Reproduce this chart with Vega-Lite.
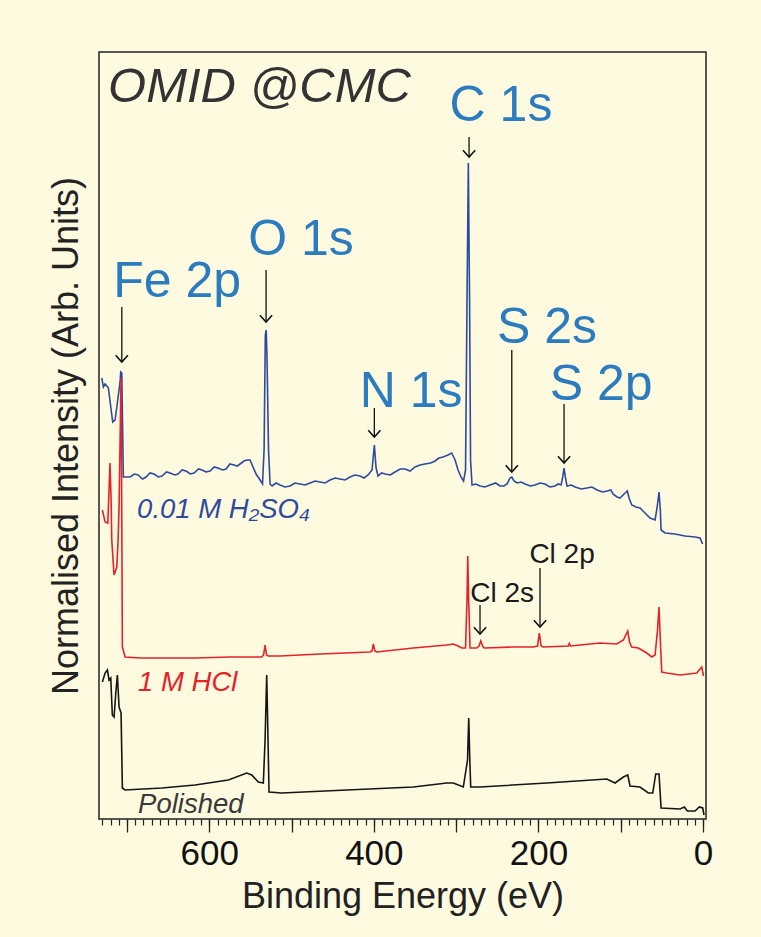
{
  "$schema": "https://vega.github.io/schema/vega-lite/v6.json",
  "width": 607,
  "height": 767,
  "autosize": "none",
  "padding": {"left": 99, "top": 52, "right": 55, "bottom": 118},
  "background": "#FEFAE0",
  "config": {
    "view": {"stroke": "#222222", "strokeWidth": 1.5},
    "font": "Liberation Sans"
  },
  "resolve": {"axis": {"x": "independent"}, "scale": {"color": "independent"}},
  "datasets": {
    "spectra": [
      {"s":"H2SO4","e":730.6,"i":441},{"s":"H2SO4","e":728.7,"i":432},{"s":"H2SO4","e":726.6,"i":435},{"s":"H2SO4","e":722.6,"i":431},{"s":"H2SO4","e":719.7,"i":412},{"s":"H2SO4","e":717.3,"i":397},{"s":"H2SO4","e":714.5,"i":399},{"s":"H2SO4","e":711.7,"i":416},{"s":"H2SO4","e":709.6,"i":429},{"s":"H2SO4","e":708.2,"i":439},{"s":"H2SO4","e":707.6,"i":447},{"s":"H2SO4","e":706.3,"i":446},{"s":"H2SO4","e":705.1,"i":379},{"s":"H2SO4","e":704.4,"i":342},{"s":"H2SO4","e":700.3,"i":342},{"s":"H2SO4","e":696.3,"i":342},{"s":"H2SO4","e":691,"i":345},{"s":"H2SO4","e":686.5,"i":344},{"s":"H2SO4","e":681,"i":340},{"s":"H2SO4","e":676.8,"i":342},{"s":"H2SO4","e":672,"i":346},{"s":"H2SO4","e":667.1,"i":345},{"s":"H2SO4","e":662,"i":342},{"s":"H2SO4","e":657.4,"i":343},{"s":"H2SO4","e":652,"i":347},{"s":"H2SO4","e":647.6,"i":346},{"s":"H2SO4","e":642,"i":344},{"s":"H2SO4","e":637.9,"i":345},{"s":"H2SO4","e":633,"i":349},{"s":"H2SO4","e":628.2,"i":348},{"s":"H2SO4","e":623,"i":345},{"s":"H2SO4","e":618.5,"i":346},{"s":"H2SO4","e":613,"i":350},{"s":"H2SO4","e":608.8,"i":349},{"s":"H2SO4","e":604,"i":347},{"s":"H2SO4","e":599.0,"i":348},{"s":"H2SO4","e":594,"i":352},{"s":"H2SO4","e":589.3,"i":351},{"s":"H2SO4","e":584,"i":349},{"s":"H2SO4","e":579.6,"i":350},{"s":"H2SO4","e":575,"i":355},{"s":"H2SO4","e":569.9,"i":354},{"s":"H2SO4","e":566,"i":353},{"s":"H2SO4","e":562.6,"i":355},{"s":"H2SO4","e":557.7,"i":358},{"s":"H2SO4","e":554.1,"i":359},{"s":"H2SO4","e":550.4,"i":359},{"s":"H2SO4","e":546.8,"i":352},{"s":"H2SO4","e":543.1,"i":345},{"s":"H2SO4","e":538.3,"i":339},{"s":"H2SO4","e":535.3,"i":335},{"s":"H2SO4","e":533.4,"i":369},{"s":"H2SO4","e":531.9,"i":484},{"s":"H2SO4","e":530.8,"i":489},{"s":"H2SO4","e":529.8,"i":459},{"s":"H2SO4","e":528.0,"i":369},{"s":"H2SO4","e":526.1,"i":335},{"s":"H2SO4","e":523.7,"i":333},{"s":"H2SO4","e":518.8,"i":336},{"s":"H2SO4","e":514.0,"i":334},{"s":"H2SO4","e":508,"i":332},{"s":"H2SO4","e":501.8,"i":333},{"s":"H2SO4","e":495.7,"i":336},{"s":"H2SO4","e":489.7,"i":335},{"s":"H2SO4","e":483.6,"i":334},{"s":"H2SO4","e":477.5,"i":336},{"s":"H2SO4","e":471.4,"i":338},{"s":"H2SO4","e":465.4,"i":337},{"s":"H2SO4","e":459.3,"i":336},{"s":"H2SO4","e":453.2,"i":339},{"s":"H2SO4","e":447,"i":341},{"s":"H2SO4","e":441.1,"i":340},{"s":"H2SO4","e":435,"i":339},{"s":"H2SO4","e":428.9,"i":342},{"s":"H2SO4","e":423,"i":344},{"s":"H2SO4","e":416.8,"i":343},{"s":"H2SO4","e":412,"i":341},{"s":"H2SO4","e":407.1,"i":344},{"s":"H2SO4","e":402.2,"i":349},{"s":"H2SO4","e":399.4,"i":374},{"s":"H2SO4","e":397.3,"i":351},{"s":"H2SO4","e":394.9,"i":343},{"s":"H2SO4","e":390.6,"i":346},{"s":"H2SO4","e":386.4,"i":345},{"s":"H2SO4","e":380,"i":344},{"s":"H2SO4","e":374.3,"i":347},{"s":"H2SO4","e":368,"i":350},{"s":"H2SO4","e":362.1,"i":350},{"s":"H2SO4","e":356,"i":348},{"s":"H2SO4","e":350.0,"i":352},{"s":"H2SO4","e":344,"i":354},{"s":"H2SO4","e":337.8,"i":355},{"s":"H2SO4","e":331,"i":356},{"s":"H2SO4","e":325.6,"i":358},{"s":"H2SO4","e":321,"i":361},{"s":"H2SO4","e":315.9,"i":362},{"s":"H2SO4","e":309.9,"i":364},{"s":"H2SO4","e":305.4,"i":366},{"s":"H2SO4","e":301.3,"i":359},{"s":"H2SO4","e":297.7,"i":349},{"s":"H2SO4","e":294.1,"i":342},{"s":"H2SO4","e":291.0,"i":338},{"s":"H2SO4","e":288.6,"i":349},{"s":"H2SO4","e":286.8,"i":519},{"s":"H2SO4","e":285.2,"i":656},{"s":"H2SO4","e":283.7,"i":519},{"s":"H2SO4","e":282.5,"i":359},{"s":"H2SO4","e":280.7,"i":334},{"s":"H2SO4","e":276,"i":335},{"s":"H2SO4","e":271.0,"i":333},{"s":"H2SO4","e":265,"i":332},{"s":"H2SO4","e":258.8,"i":334},{"s":"H2SO4","e":252,"i":336},{"s":"H2SO4","e":246.7,"i":333},{"s":"H2SO4","e":242,"i":333},{"s":"H2SO4","e":238.2,"i":335},{"s":"H2SO4","e":234.5,"i":341},{"s":"H2SO4","e":232.4,"i":342},{"s":"H2SO4","e":229.7,"i":338},{"s":"H2SO4","e":226.0,"i":336},{"s":"H2SO4","e":221,"i":337},{"s":"H2SO4","e":216.3,"i":335},{"s":"H2SO4","e":210,"i":333},{"s":"H2SO4","e":204.1,"i":334},{"s":"H2SO4","e":198,"i":336},{"s":"H2SO4","e":192.0,"i":335},{"s":"H2SO4","e":186,"i":332},{"s":"H2SO4","e":179.8,"i":333},{"s":"H2SO4","e":176,"i":335},{"s":"H2SO4","e":172.5,"i":334},{"s":"H2SO4","e":170.7,"i":341},{"s":"H2SO4","e":168.9,"i":351},{"s":"H2SO4","e":167.1,"i":341},{"s":"H2SO4","e":165.3,"i":333},{"s":"H2SO4","e":160,"i":334},{"s":"H2SO4","e":155.5,"i":332},{"s":"H2SO4","e":148,"i":330},{"s":"H2SO4","e":141.0,"i":331},{"s":"H2SO4","e":135,"i":332},{"s":"H2SO4","e":128.8,"i":329},{"s":"H2SO4","e":122,"i":327},{"s":"H2SO4","e":116.6,"i":328},{"s":"H2SO4","e":112,"i":329},{"s":"H2SO4","e":109.4,"i":325},{"s":"H2SO4","e":104.5,"i":322},{"s":"H2SO4","e":100.9,"i":321},{"s":"H2SO4","e":96.0,"i":325},{"s":"H2SO4","e":92.0,"i":328},{"s":"H2SO4","e":89.9,"i":321},{"s":"H2SO4","e":86.6,"i":314},{"s":"H2SO4","e":81.4,"i":312},{"s":"H2SO4","e":76.6,"i":311},{"s":"H2SO4","e":70.5,"i":306},{"s":"H2SO4","e":64.4,"i":301},{"s":"H2SO4","e":58.3,"i":299},{"s":"H2SO4","e":55.9,"i":311},{"s":"H2SO4","e":53.5,"i":327},{"s":"H2SO4","e":51.9,"i":309},{"s":"H2SO4","e":51.0,"i":289},{"s":"H2SO4","e":46.2,"i":286},{"s":"H2SO4","e":34.0,"i":285},{"s":"H2SO4","e":21.9,"i":283},{"s":"H2SO4","e":9.7,"i":282},{"s":"H2SO4","e":3.6,"i":281},{"s":"H2SO4","e":0.6,"i":275},
      {"s":"HCl","e":729.9,"i":309},{"s":"HCl","e":726.6,"i":297},{"s":"HCl","e":723.3,"i":296},{"s":"HCl","e":721.8,"i":329},{"s":"HCl","e":720.6,"i":356},{"s":"HCl","e":719.3,"i":319},{"s":"HCl","e":718.5,"i":279},{"s":"HCl","e":715.7,"i":244},{"s":"HCl","e":712.4,"i":252},{"s":"HCl","e":710.8,"i":279},{"s":"HCl","e":709.6,"i":312},{"s":"HCl","e":708.0,"i":399},{"s":"HCl","e":707.2,"i":441},{"s":"HCl","e":706.3,"i":299},{"s":"HCl","e":705.6,"i":172},{"s":"HCl","e":702.3,"i":162},{"s":"HCl","e":684.1,"i":161},{"s":"HCl","e":659.8,"i":161},{"s":"HCl","e":617.3,"i":161},{"s":"HCl","e":574.7,"i":162},{"s":"HCl","e":536.2,"i":162},{"s":"HCl","e":534.0,"i":164},{"s":"HCl","e":532.2,"i":174},{"s":"HCl","e":530.4,"i":164},{"s":"HCl","e":528.2,"i":163},{"s":"HCl","e":514.0,"i":163},{"s":"HCl","e":465.4,"i":165},{"s":"HCl","e":404.6,"i":167},{"s":"HCl","e":402.2,"i":168},{"s":"HCl","e":400.6,"i":175},{"s":"HCl","e":398.8,"i":168},{"s":"HCl","e":396.5,"i":167},{"s":"HCl","e":352.0,"i":171},{"s":"HCl","e":311.4,"i":174},{"s":"HCl","e":303.4,"i":175},{"s":"HCl","e":297.7,"i":173},{"s":"HCl","e":293.2,"i":171},{"s":"HCl","e":288.6,"i":171},{"s":"HCl","e":286.8,"i":219},{"s":"HCl","e":285.9,"i":263},{"s":"HCl","e":284.8,"i":219},{"s":"HCl","e":283.1,"i":171},{"s":"HCl","e":275.0,"i":171},{"s":"HCl","e":272.2,"i":173},{"s":"HCl","e":270.1,"i":178},{"s":"HCl","e":267.9,"i":173},{"s":"HCl","e":266.1,"i":171},{"s":"HCl","e":230.5,"i":172},{"s":"HCl","e":206.2,"i":172},{"s":"HCl","e":201.1,"i":173},{"s":"HCl","e":198.9,"i":186},{"s":"HCl","e":196.8,"i":173},{"s":"HCl","e":194.1,"i":172},{"s":"HCl","e":163.7,"i":173},{"s":"HCl","e":162.5,"i":175.5},{"s":"HCl","e":161.0,"i":173},{"s":"HCl","e":149.5,"i":174},{"s":"HCl","e":125.2,"i":176},{"s":"HCl","e":104.9,"i":175},{"s":"HCl","e":96.8,"i":179},{"s":"HCl","e":91.5,"i":188},{"s":"HCl","e":89.3,"i":177},{"s":"HCl","e":86.6,"i":172},{"s":"HCl","e":78.6,"i":171},{"s":"HCl","e":68.4,"i":166},{"s":"HCl","e":62.3,"i":162},{"s":"HCl","e":58.3,"i":164},{"s":"HCl","e":55.3,"i":189},{"s":"HCl","e":53.5,"i":212},{"s":"HCl","e":51.9,"i":179},{"s":"HCl","e":50.2,"i":147},{"s":"HCl","e":44.1,"i":146},{"s":"HCl","e":27.9,"i":144},{"s":"HCl","e":7.7,"i":146},{"s":"HCl","e":1.6,"i":152},{"s":"HCl","e":-0.6,"i":143},
      {"s":"Polished","e":729.9,"i":137},{"s":"Polished","e":726.6,"i":146},{"s":"Polished","e":723.8,"i":149},{"s":"Polished","e":721.8,"i":139},{"s":"Polished","e":719.7,"i":141},{"s":"Polished","e":717.8,"i":104},{"s":"Polished","e":715.7,"i":102},{"s":"Polished","e":713.6,"i":126},{"s":"Polished","e":711.7,"i":144},{"s":"Polished","e":709.6,"i":112},{"s":"Polished","e":708.4,"i":109},{"s":"Polished","e":707.2,"i":106},{"s":"Polished","e":705.6,"i":31},{"s":"Polished","e":702.3,"i":29},{"s":"Polished","e":657.7,"i":31},{"s":"Polished","e":617.3,"i":34},{"s":"Polished","e":576.8,"i":39},{"s":"Polished","e":554.5,"i":46},{"s":"Polished","e":548.4,"i":44},{"s":"Polished","e":540.4,"i":37},{"s":"Polished","e":534.3,"i":36},{"s":"Polished","e":532.2,"i":79},{"s":"Polished","e":530.2,"i":144},{"s":"Polished","e":528.6,"i":79},{"s":"Polished","e":527.4,"i":27},{"s":"Polished","e":511.9,"i":26},{"s":"Polished","e":432.9,"i":29},{"s":"Polished","e":352.0,"i":32},{"s":"Polished","e":311.4,"i":36},{"s":"Polished","e":303.4,"i":36},{"s":"Polished","e":291.3,"i":32},{"s":"Polished","e":289.2,"i":43},{"s":"Polished","e":286.2,"i":59},{"s":"Polished","e":284.7,"i":101},{"s":"Polished","e":283.4,"i":59},{"s":"Polished","e":282.3,"i":32},{"s":"Polished","e":271.0,"i":32},{"s":"Polished","e":189.9,"i":36},{"s":"Polished","e":117.0,"i":40},{"s":"Polished","e":106.9,"i":36},{"s":"Polished","e":96.8,"i":42},{"s":"Polished","e":91.5,"i":44},{"s":"Polished","e":88.7,"i":33},{"s":"Polished","e":76.6,"i":32},{"s":"Polished","e":66.5,"i":26},{"s":"Polished","e":61.1,"i":26},{"s":"Polished","e":57.5,"i":45},{"s":"Polished","e":53.5,"i":45},{"s":"Polished","e":51.0,"i":11},{"s":"Polished","e":27.9,"i":10},{"s":"Polished","e":22.7,"i":12},{"s":"Polished","e":19.1,"i":8},{"s":"Polished","e":9.7,"i":8},{"s":"Polished","e":4.5,"i":12},{"s":"Polished","e":0.4,"i":11},{"s":"Polished","e":-1.2,"i":4}
    ],
    "arrows": [
      {"e":706.3,"a":512,"b":457},{"e":531.0,"a":549,"b":497},{"e":284.3,"a":682,"b":662},{"e":399.4,"a":411,"b":382},{"e":232.4,"a":469,"b":347},{"e":168.9,"a":415,"b":356},{"e":271.0,"a":214,"b":185},{"e":198.1,"a":251,"b":192}
    ],
    "peaks": [
      {"t":"C 1s","e":245.5,"i":698},{"t":"O 1s","e":488.5,"i":564},{"t":"Fe 2p","e":639.1,"i":522},{"t":"N 1s","e":354.8,"i":412},{"t":"S 2s","e":189.6,"i":476},{"t":"S 2p","e":123.9,"i":419}
    ],
    "cl": [
      {"t":"Cl 2s","e":244.2,"i":217},{"t":"Cl 2p","e":171.3,"i":256}
    ],
    "heading": [
      {"t":"OMID @CMC","e":723.0,"i":717}
    ],
    "series": [
      {"t":"0.01 M H₂SO₄","s":"H2SO4","e":687.7,"i":301},{"t":"1 M HCl","s":"HCl","e":686.5,"i":128},{"t":"Polished","s":"Polished","e":686.5,"i":6}
    ]
  },
  "layer": [
    {
      "data": {"name": "spectra"},
      "mark": {"type": "line", "strokeWidth": 1.6},
      "encoding": {
        "x": {
          "field": "e", "type": "quantitative",
          "scale": {"domain": [-3.6, 734], "reverse": true, "nice": false, "zero": false},
          "axis": {
            "orient": "bottom",
            "title": "Binding Energy (eV)",
            "values": [0, 100, 200, 300, 400, 500, 600, 700],
            "labelExpr": "datum.value % 200 === 0 ? datum.label : ''",
            "labelFlush": false,
            "tickSize": 13,
            "tickColor": "#222222",
            "tickWidth": 1.3,
            "domain": false,
            "grid": false,
            "labelFontSize": 35,
            "labelColor": "#111111",
            "labelPadding": 4,
            "titleFontSize": 36,
            "titleFontWeight": "normal",
            "titleColor": "#222222",
            "titlePadding": 8
          }
        },
        "y": {
          "field": "i", "type": "quantitative",
          "scale": {"domain": [0, 767], "nice": false, "zero": false},
          "axis": {
            "title": "Normalised Intensity (Arb. Units)",
            "ticks": false, "labels": false, "domain": false, "grid": false,
            "titleFontSize": 36, "titleFontWeight": "normal", "titleColor": "#222222",
            "titlePadding": 14
          }
        },
        "color": {
          "field": "s", "type": "nominal",
          "scale": {"domain": ["H2SO4", "HCl", "Polished"], "range": ["#2D4A9F", "#E4222A", "#151515"]},
          "legend": null
        }
      }
    },
    {
      "data": {"name": "arrows"},
      "mark": {"type": "rule", "color": "#111111", "strokeWidth": 1.3},
      "encoding": {
        "x": {
          "field": "e", "type": "quantitative",
          "axis": {
            "orient": "bottom",
            "title": null,
            "values": [0,10,20,30,40,50,60,70,80,90,100,110,120,130,140,150,160,170,180,190,200,210,220,230,240,250,260,270,280,290,300,310,320,330,340,350,360,370,380,390,400,410,420,430,440,450,460,470,480,490,500,510,520,530,540,550,560,570,580,590,600,610,620,630,640,650,660,670,680,690,700,710,720,730],
            "labels": false,
            "tickSize": 6,
            "tickColor": "#222222",
            "tickWidth": 1.2,
            "domain": false,
            "grid": false
          }
        },
        "y": {"field": "a", "type": "quantitative"},
        "y2": {"field": "b"}
      }
    },
    {
      "data": {"name": "arrows"},
      "mark": {"type": "point", "shape": "M-1,-1.1L0,0L1,-1.1", "filled": false, "color": "#111111", "strokeWidth": 1.6, "size": 150, "opacity": 1},
      "encoding": {
        "x": {"field": "e", "type": "quantitative", "axis": null},
        "y": {"field": "b", "type": "quantitative"}
      }
    },
    {
      "data": {"name": "peaks"},
      "mark": {"type": "text", "align": "center", "baseline": "alphabetic", "fontSize": 50, "color": "#2B7BBF"},
      "encoding": {
        "x": {"field": "e", "type": "quantitative", "axis": null},
        "y": {"field": "i", "type": "quantitative"},
        "text": {"field": "t"}
      }
    },
    {
      "data": {"name": "cl"},
      "mark": {"type": "text", "align": "center", "baseline": "alphabetic", "fontSize": 28, "color": "#1A1A1A"},
      "encoding": {
        "x": {"field": "e", "type": "quantitative", "axis": null},
        "y": {"field": "i", "type": "quantitative"},
        "text": {"field": "t"}
      }
    },
    {
      "data": {"name": "heading"},
      "mark": {"type": "text", "align": "left", "baseline": "alphabetic", "fontSize": 49, "fontStyle": "italic", "color": "#333333"},
      "encoding": {
        "x": {"field": "e", "type": "quantitative", "axis": null},
        "y": {"field": "i", "type": "quantitative"},
        "text": {"field": "t"}
      }
    },
    {
      "data": {"name": "series"},
      "mark": {"type": "text", "align": "left", "baseline": "alphabetic", "fontSize": 27.5, "fontStyle": "italic"},
      "encoding": {
        "x": {"field": "e", "type": "quantitative", "axis": null},
        "y": {"field": "i", "type": "quantitative"},
        "text": {"field": "t"},
        "color": {
          "field": "s", "type": "nominal", "legend": null,
          "scale": {"domain": ["H2SO4", "HCl", "Polished"], "range": ["#2E4AA0", "#E4222A", "#3A3A3A"]}
        }
      }
    }
  ]
}
